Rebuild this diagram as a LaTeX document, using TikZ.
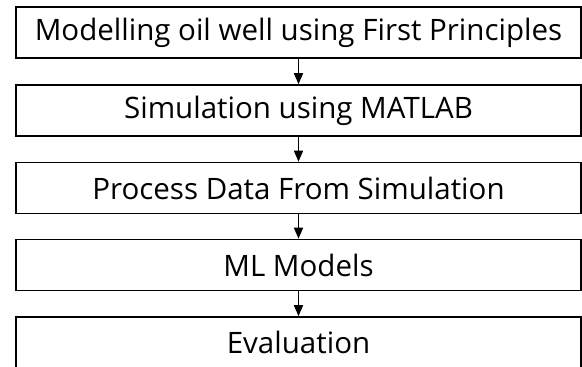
\documentclass[tikz,border=0pt]{standalone}
\usepackage{fontspec}
\setmainfont{Open Sans}
\usetikzlibrary{arrows.meta}

\tikzset{
  stage/.style={draw, line width=1.6pt, minimum width=565pt, minimum height=51pt,
    inner sep=0pt, font=\fontsize{29.5}{33}\selectfont},
  flow/.style={line width=1.6pt, -{Triangle[length=11pt,width=9pt]}}
}

\begin{document}
\begin{tikzpicture}[x=1pt,y=-1pt]
    % the page frame
    \useasboundingbox (0,0) rectangle (582,367);

    % the stages
    \node[stage] (model) at (298.5,32.5) {Modelling oil well using First Principles};
    \node[stage] (sim) at (298.5,110.5) {Simulation using MATLAB};
    \node[stage] (data) at (298.5,188) {Process Data From Simulation};
    \node[stage] (ml) at (298.5,265) {ML Models};
    \node[stage] (eval) at (298.5,342.5) {Evaluation};

    % the arrows between stages
    \draw[flow] (model) -- (sim);
    \draw[flow] (sim) -- (data);
    \draw[flow] (data) -- (ml);
    \draw[flow] (ml) -- (eval);
\end{tikzpicture}
\end{document}
